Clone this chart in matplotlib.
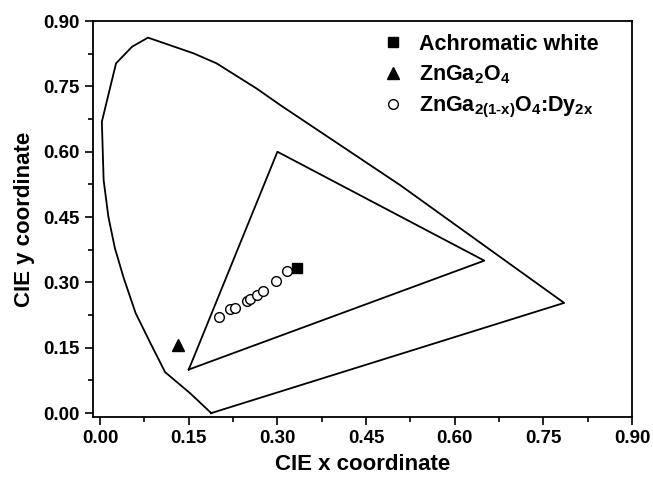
import matplotlib
matplotlib.use('Agg')
import matplotlib.pyplot as plt
import numpy as np

plt.rcParams['font.family'] = ['Liberation Sans', 'DejaVu Sans']
plt.rcParams['font.weight'] = 'bold'
plt.rcParams['mathtext.fontset'] = 'custom'
plt.rcParams['mathtext.rm'] = 'Liberation Sans:bold'
plt.rcParams['mathtext.bf'] = 'Liberation Sans:bold'
plt.rcParams['mathtext.default'] = 'bf'

# spectral locus outline (closed through the purple line)
locus_x = [0.188, 0.152, 0.11, 0.085, 0.06, 0.04, 0.025, 0.014, 0.006, 0.003,
           0.027, 0.054, 0.081, 0.158, 0.197, 0.265, 0.305, 0.508, 0.785, 0.188]
locus_y = [0.0, 0.046, 0.094, 0.161, 0.23, 0.31, 0.379, 0.451, 0.535, 0.669,
           0.803, 0.841, 0.862, 0.826, 0.803, 0.745, 0.707, 0.523, 0.253, 0.0]

# colour gamut triangle
gamut_x = [0.15, 0.30, 0.65, 0.15]
gamut_y = [0.10, 0.60, 0.35, 0.10]

white_xy = (0.333, 0.333)
host_xy = (0.131, 0.157)

dy_x = [0.202, 0.220, 0.228, 0.248, 0.254, 0.266, 0.275, 0.297, 0.317]
dy_y = [0.220, 0.240, 0.242, 0.258, 0.262, 0.271, 0.281, 0.304, 0.327]

labels = ['Achromatic white', r'ZnGa$_{2}$O$_{4}$', r'ZnGa$_{2(1\text{-}x)}$O$_{4}$:Dy$_{2x}$']

fig = plt.figure(figsize=(6.53, 4.79), dpi=100)
ax = fig.add_axes([0.1424, 0.1294, 0.8256, 0.8266])

ax.plot(locus_x, locus_y, color='black', lw=1.3)
ax.plot(gamut_x, gamut_y, color='black', lw=1.3)

ax.plot(*white_xy, 's', color='black', ms=7.5, label=labels[0], zorder=4)
ax.plot(*host_xy, '^', color='black', ms=9, label=labels[1], zorder=4)
ax.plot(dy_x, dy_y, 'o', mfc='white', mec='black', mew=1.0, ms=7,
        ls='none', label=labels[2], zorder=3)

ax.set_xlim(-0.012, 0.9)
ax.set_ylim(-0.009, 0.9)
ticks = np.arange(0, 0.91, 0.15)
ax.set_xticks(ticks)
ax.set_yticks(ticks)
ax.set_xticklabels([f'{t:.2f}' for t in ticks])
ax.set_yticklabels([f'{t:.2f}' for t in ticks])
ax.set_xticks(np.arange(0.075, 0.9, 0.15), minor=True)
ax.set_yticks(np.arange(0.075, 0.9, 0.15), minor=True)
ax.tick_params(which='both', direction='out', width=1.2, labelsize=13.5)
ax.tick_params(which='major', length=6)
ax.tick_params(which='minor', length=3.5)
for s in ax.spines.values():
    s.set_linewidth(1.3)

ax.set_xlabel('CIE x coordinate', fontsize=16, fontweight='bold', labelpad=5)
ax.set_ylabel('CIE y coordinate', fontsize=16, fontweight='bold', labelpad=6)

ax.legend(loc='upper left', bbox_to_anchor=(0.5, 1.0), frameon=False,
          handletextpad=0.4, handlelength=1.6, labelspacing=0.4,
          borderaxespad=0.2, numpoints=1,
          prop={'weight': 'bold', 'size': 15.5})

fig.savefig('out.png', dpi=100)
